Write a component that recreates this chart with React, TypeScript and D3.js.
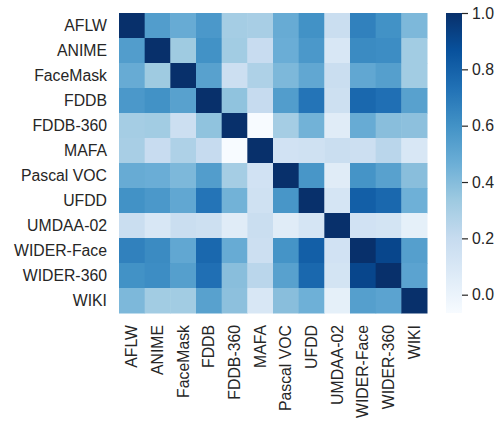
import React, { useEffect, useRef } from "react";
import * as d3 from "d3";

const datasets = [
  "AFLW", "ANIME", "FaceMask", "FDDB", "FDDB-360", "MAFA",
  "Pascal VOC", "UFDD", "UMDAA-02", "WIDER-Face", "WIDER-360", "WIKI",
];

// correlation matrix, one row per dataset
const rowAFLW = [1.00, 0.55, 0.48, 0.57, 0.31, 0.30, 0.48, 0.60, 0.18, 0.67, 0.60, 0.42];
const rowANIME = [0.55, 1.00, 0.33, 0.60, 0.32, 0.19, 0.47, 0.57, 0.10, 0.63, 0.62, 0.32];
const rowFaceMask = [0.48, 0.33, 1.00, 0.53, 0.17, 0.28, 0.42, 0.50, 0.18, 0.50, 0.54, 0.32];
const rowFDDB = [0.57, 0.60, 0.53, 1.00, 0.37, 0.20, 0.55, 0.72, 0.16, 0.77, 0.74, 0.53];
const rowFDDB360 = [0.31, 0.32, 0.17, 0.37, 1.00, -0.065, 0.31, 0.45, 0.06, 0.48, 0.39, 0.38];
const rowMAFA = [0.30, 0.19, 0.28, 0.20, -0.065, 1.00, 0.14, 0.15, 0.18, 0.17, 0.24, 0.10];
const rowPascal = [0.48, 0.47, 0.42, 0.55, 0.31, 0.14, 1.00, 0.58, 0.06, 0.59, 0.53, 0.39];
const rowUFDD = [0.60, 0.57, 0.50, 0.72, 0.45, 0.15, 0.58, 1.00, 0.12, 0.81, 0.77, 0.46];
const rowUMDAA = [0.18, 0.10, 0.18, 0.16, 0.06, 0.18, 0.06, 0.12, 1.00, 0.14, 0.13, 0.03];
const rowWIDERFace = [0.67, 0.63, 0.50, 0.77, 0.48, 0.17, 0.59, 0.81, 0.14, 1.00, 0.91, 0.54];
const rowWIDER360 = [0.60, 0.62, 0.54, 0.74, 0.39, 0.24, 0.53, 0.77, 0.13, 0.91, 1.00, 0.52];
const rowWIKI = [0.42, 0.32, 0.32, 0.53, 0.38, 0.10, 0.39, 0.46, 0.03, 0.54, 0.52, 1.00];

const matrix = [
  rowAFLW, rowANIME, rowFaceMask, rowFDDB, rowFDDB360, rowMAFA,
  rowPascal, rowUFDD, rowUMDAA, rowWIDERFace, rowWIDER360, rowWIKI,
];

const cbarTicks = [0.0, 0.2, 0.4, 0.6, 0.8, 1.0];

// matplotlib "Blues" (linear segments)
const bluesColors = [
  "#f7fbff", "#deebf7", "#c6dbef", "#9ecae1", "#6baed6",
  "#4292c6", "#2171b5", "#08519c", "#08306b",
];

const W = 500, H = 423;
const left = 119, top = 13, right = 427, bottom = 313;
const cbLeft = 446, cbWidth = 16;
const textColor = "#262626";
const font = "'Liberation Sans', Arial, sans-serif";
const fontSize = 15.8;

export default function App() {
  const ref = useRef<SVGSVGElement>(null);

  useEffect(() => {
    const svg = d3.select(ref.current);
    svg.selectAll("*").remove();

    const flat = matrix.flat();
    const vmin = d3.min(flat) as number;
    const vmax = d3.max(flat) as number;

    const stops = bluesColors.map((_, i) => vmin + (vmax - vmin) * i / (bluesColors.length - 1));
    const color = d3.scaleLinear<string>().domain(stops).range(bluesColors).interpolate(d3.interpolateRgb);

    const x = d3.scaleBand().domain(datasets).range([left, right]);
    const y = d3.scaleBand().domain(datasets).range([top, bottom]);

    const cells = [];
    matrix.forEach((row, i) => row.forEach((v, j) => cells.push({ r: datasets[i], c: datasets[j], v })));

    svg.append("g")
      .selectAll("rect")
      .data(cells)
      .enter().append("rect")
        .attr("x", (d: any) => x(d.c))
        .attr("y", (d: any) => y(d.r))
        .attr("width", x.bandwidth() + 0.5)
        .attr("height", y.bandwidth() + 0.5)
        .attr("fill", (d: any) => color(d.v));

    // y labels
    svg.append("g")
      .selectAll("text")
      .data(datasets)
      .enter().append("text")
        .attr("x", left - 12)
        .attr("y", d => (y(d) as number) + y.bandwidth() / 2)
        .attr("dy", "0.35em")
        .attr("text-anchor", "end")
        .attr("font-family", font)
        .attr("font-size", fontSize)
        .attr("fill", textColor)
        .text(d => d);

    // x labels (rotated)
    svg.append("g")
      .selectAll("text")
      .data(datasets)
      .enter().append("text")
        .attr("transform", d => "translate(" + ((x(d) as number) + x.bandwidth() / 2) + "," + (bottom + 12) + ") rotate(-90)")
        .attr("dy", "0.35em")
        .attr("text-anchor", "end")
        .attr("font-family", font)
        .attr("font-size", fontSize)
        .attr("fill", textColor)
        .text(d => d);

    // colorbar
    const grad = svg.append("defs").append("linearGradient")
      .attr("id", "cbar")
      .attr("x1", 0).attr("y1", 1).attr("x2", 0).attr("y2", 0);
    bluesColors.forEach((c, i) => {
      grad.append("stop").attr("offset", i / (bluesColors.length - 1)).attr("stop-color", c);
    });

    svg.append("rect")
      .attr("x", cbLeft).attr("y", top)
      .attr("width", cbWidth).attr("height", bottom - top)
      .attr("fill", "url(#cbar)");

    const cy = d3.scaleLinear().domain([vmin, vmax]).range([bottom, top]);
    const axis = svg.append("g")
      .attr("transform", "translate(" + (cbLeft + cbWidth) + ",0)")
      .call(d3.axisRight(cy).tickValues(cbarTicks).tickFormat(d3.format(".1f")).tickSize(6).tickPadding(4));
    axis.select(".domain").remove();
    axis.selectAll("line").attr("stroke", textColor).attr("stroke-width", 1.2);
    axis.selectAll("text")
      .attr("font-family", font)
      .attr("font-size", fontSize)
      .attr("fill", textColor);
  }, []);

  return (
    <svg ref={ref} width={W} height={H}
      style={{ position: "absolute", left: 0, top: 0, background: "#fff" }} />
  );
}
